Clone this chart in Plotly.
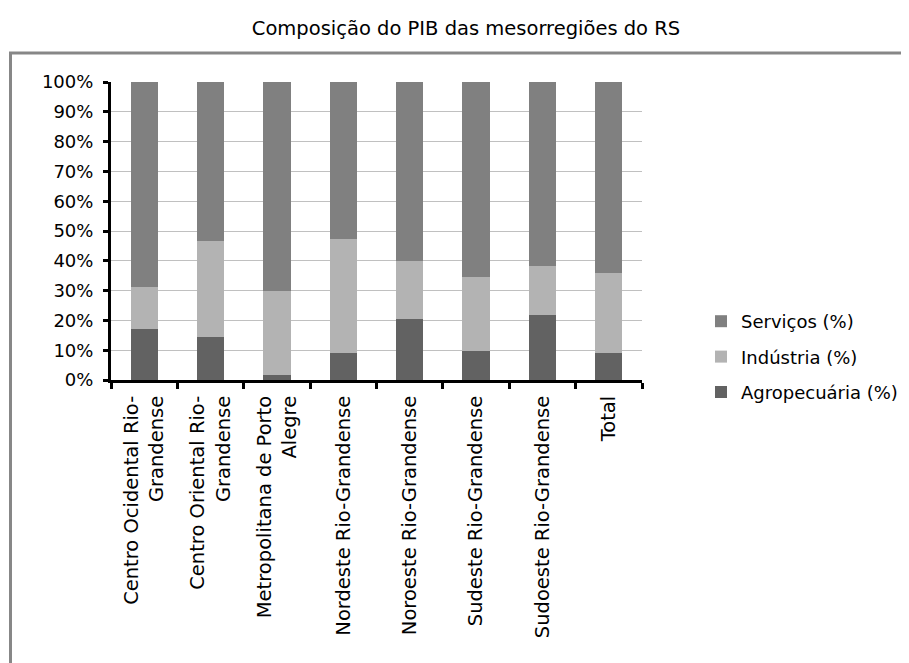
import plotly.graph_objects as go

categories = [
    "Centro Ocidental Rio-<br>Grandense",
    "Centro Oriental Rio-<br>Grandense",
    "Metropolitana de Porto<br>Alegre",
    "Nordeste Rio-Grandense",
    "Noroeste Rio-Grandense",
    "Sudeste Rio-Grandense",
    "Sudoeste Rio-Grandense",
    "Total",
]
agropecuaria = [17.1, 14.4, 1.7, 9.1, 20.5, 9.7, 21.8, 9.1]
industria = [14.1, 32.3, 28.3, 38.3, 19.5, 24.9, 16.5, 26.8]
servicos = [68.8, 53.3, 70.0, 52.6, 60.0, 65.4, 61.7, 64.1]

# page has an 8px body margin; work in page pixels and convert
OFF = 8
W, H = 909 - OFF, 663 - OFF
L, R, T, B = 111 - OFF, 642 - OFF, 82 - OFF, 380 - OFF

def px_x(x):
    return (x - OFF - L) / (R - L)

def px_y(y):
    return (B - (y - OFF)) / (B - T)

FAM = "DejaVu Sans, Verdana, sans-serif"
font = dict(family=FAM, size=18, color="#000000")

fig = go.Figure()
fig.add_trace(go.Bar(x=categories, y=agropecuaria, name="Agropecuária (%)",
                     marker=dict(color="#626262", line=dict(width=0)),
                     legendgroup="a", legendrank=3))
fig.add_trace(go.Bar(x=categories, y=industria, name="Indústria (%)",
                     marker=dict(color="#b3b3b3", line=dict(width=0)),
                     legendgroup="b", legendrank=2))
fig.add_trace(go.Bar(x=categories, y=servicos, name="Serviços (%)",
                     marker=dict(color="#808080", line=dict(width=0)),
                     legendgroup="c", legendrank=1))

fig.update_layout(
    width=W, height=H,
    barmode="stack", bargap=0.59,
    paper_bgcolor="white", plot_bgcolor="white",
    margin=dict(l=L, r=W - R, t=T, b=H - B, pad=0, autoexpand=False),
    font=font,
    title=dict(text="Composição do PIB das mesorregiões do RS", x=(466 - OFF) / W, xanchor="center",
               y=1 - (28 - OFF) / H, yanchor="middle", font=dict(size=19.5, family=FAM)),
    showlegend=True,
    legend=dict(x=px_x(701), xanchor="left", y=px_y(303), yanchor="top",
                traceorder="grouped", tracegroupgap=9,
                font=dict(size=18, family=FAM), itemwidth=30, bgcolor="rgba(0,0,0,0)"),
    shapes=[dict(type="rect", xref="paper", yref="paper",
                 x0=px_x(10.5), x1=px_x(940), y0=px_y(720), y1=px_y(53),
                 line=dict(color="#878787", width=3), fillcolor="rgba(0,0,0,0)", layer="below")],
)
fig.update_xaxes(showline=True, linecolor="#000000", linewidth=3, ticks="outside",
                 tickson="boundaries", ticklen=6, tickwidth=3, tickcolor="#000000",
                 tickangle=-90, showgrid=False, ticklabelstandoff=5, automargin=False,
                 tickfont=dict(size=19.5, family=FAM))
fig.update_yaxes(range=[0, 100], dtick=10, ticksuffix="%", showline=True, linecolor="#000000",
                 linewidth=3, ticks="outside", ticklen=5, tickwidth=3, tickcolor="#000000",
                 showgrid=True, gridcolor="#c0c0c0", gridwidth=1, zeroline=False,
                 automargin=False, ticklabelstandoff=6, tickfont=dict(size=18, family=FAM))

fig.write_html("out.html")
